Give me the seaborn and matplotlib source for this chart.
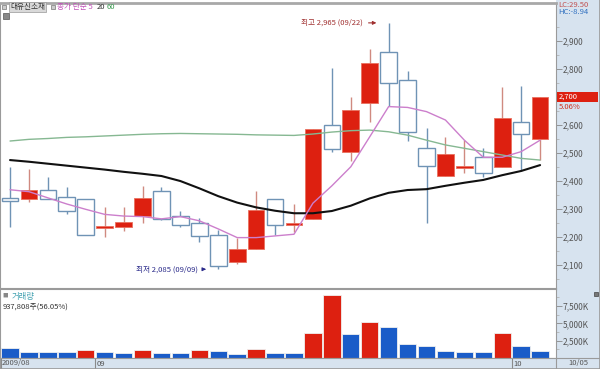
import matplotlib
matplotlib.use("Agg")
import matplotlib.pyplot as plt
import seaborn as sns
import pandas as pd
from matplotlib.patches import Rectangle

# ---- data ----
dates = ['08/25', '08/26', '08/27', '08/28', '08/31', '09/01', '09/02', '09/03',
         '09/04', '09/07', '09/08', '09/09', '09/10', '09/11', '09/14', '09/15',
         '09/16', '09/17', '09/18', '09/21', '09/22', '09/23', '09/24', '09/25',
         '09/28', '09/29', '09/30', '10/01', '10/05']
opens = [2338, 2336, 2367, 2342, 2335, 2233, 2236, 2276, 2364, 2276, 2249, 2206,
         2112, 2158, 2335, 2243, 2263, 2599, 2502, 2680, 2860, 2760, 2519, 2418,
         2448, 2487, 2449, 2610, 2549]
highs = [2451, 2443, 2413, 2380, 2335, 2306, 2306, 2383, 2377, 2294, 2267, 2225,
         2195, 2364, 2335, 2318, 2585, 2805, 2699, 2871, 2965, 2794, 2588, 2558,
         2546, 2519, 2735, 2741, 2700]
lows = [2237, 2326, 2336, 2282, 2206, 2201, 2221, 2249, 2261, 2237, 2183, 2085,
        2104, 2158, 2207, 2219, 2263, 2502, 2473, 2612, 2668, 2544, 2249, 2418,
        2427, 2413, 2449, 2437, 2475]
closes = [2330, 2368, 2336, 2293, 2206, 2240, 2252, 2338, 2264, 2242, 2202, 2096,
          2158, 2296, 2242, 2249, 2585, 2513, 2654, 2820, 2749, 2574, 2454, 2498,
          2454, 2427, 2627, 2568, 2700]
ma5 = [2369, 2362, 2340, 2318, 2299, 2281, 2275, 2273, 2265, 2273, 2258, 2229,
       2198, 2198, 2204, 2210, 2321, 2383, 2451, 2558, 2666, 2663, 2648, 2618,
       2546, 2485, 2485, 2505, 2546]
ma20 = [2475, 2469, 2462, 2455, 2448, 2441, 2433, 2426, 2418, 2400, 2374, 2346,
        2323, 2306, 2294, 2285, 2285, 2293, 2312, 2338, 2358, 2368, 2371, 2383,
        2394, 2404, 2421, 2436, 2457]
ma60 = [2543, 2549, 2552, 2556, 2558, 2561, 2564, 2567, 2569, 2570, 2569, 2568,
        2567, 2565, 2564, 2563, 2568, 2575, 2580, 2582, 2576, 2564, 2546, 2529,
        2517, 2505, 2493, 2481, 2475]
# volume in thousands of shares
volume = [1490, 865, 865, 865, 1110, 865, 720, 1110, 720, 675, 1110, 1010, 530,
          1340, 720, 720, 3560, 9090, 3420, 5240, 4470, 2020, 1690, 1010, 910,
          820, 3560, 1690, 938]
vol_up = ['n', 'n', 'n', 'n', 'y', 'n', 'n', 'y', 'n', 'n', 'y', 'n', 'n', 'y',
          'n', 'n', 'y', 'y', 'n', 'y', 'n', 'n', 'n', 'n', 'n', 'n', 'y', 'n', 'n']
price_ticks = [2100, 2200, 2300, 2400, 2500, 2600, 2700, 2800, 2900]
vol_ticks = [2500, 5000, 7500]
month_marks = [-0.5, 4.5, 26.5]
month_labels = ['2009/08', '09', '10']
last_price = 2700

RED = '#dd2010'
BLUE = '#1a5cc8'
HOLLOW_EDGE = '#6f93b5'
PANEL = '#d7e3ef'
GRID_GRAY = '#9a9a9a'

sns.set_theme(style='white')
plt.rcParams['font.family'] = ['Noto Sans CJK KR', 'DejaVu Sans']

df = pd.DataFrame({'date': dates, 'open': opens, 'high': highs, 'low': lows,
                   'close': closes, 'ma5': ma5, 'ma20': ma20, 'ma60': ma60,
                   'volume': volume, 'up': vol_up})
df['idx'] = range(len(df))

W, H = 600, 369
fig = plt.figure(figsize=(6.0, 3.69), dpi=100)
fig.patch.set_facecolor('white')

def fx(px):
    return px / W

def fy(py):
    return 1 - py / H

# blue right panel background (behind everything)
fig.patches.append(Rectangle((fx(556), 0), 1 - fx(556), 1, transform=fig.transFigure,
                             facecolor=PANEL, edgecolor='none', zorder=-5))

xlim = (-0.53, 28.84)

# ---- price panel ----
ax = fig.add_axes([0, fy(288), fx(556), fy(3) - fy(288)])
ax.set_facecolor('white')
for i, r in df.iterrows():
    up = r['close'] >= r['open']
    wick = '#d08a80' if up else HOLLOW_EDGE
    ax.vlines(r['idx'], r['low'], r['high'], color=wick, linewidth=1.0, zorder=2)
    bottom = min(r['open'], r['close'])
    height = max(abs(r['close'] - r['open']), 5)
    if up:
        ax.bar(r['idx'], height, bottom=bottom, width=0.88, color=RED,
               edgecolor='#e9705f', linewidth=0.6, zorder=3)
    else:
        ax.bar(r['idx'], height, bottom=bottom, width=0.88, color='white',
               edgecolor=HOLLOW_EDGE, linewidth=1.0, zorder=3)

sns.lineplot(data=df, x='idx', y='ma60', color='#86b892', linewidth=1.0, ax=ax, zorder=4)
sns.lineplot(data=df, x='idx', y='ma20', color='#111111', linewidth=1.5, ax=ax, zorder=4)
sns.lineplot(data=df, x='idx', y='ma5', color='#cc7fcc', linewidth=1.0, ax=ax, zorder=5)

ax.set_xlim(*xlim)
ax.set_ylim(2018, 3036)
ax.set_xlabel('')
ax.set_ylabel('')
ax.set_xticks([])
ax.yaxis.tick_right()
ax.set_yticks(price_ticks)
# the tick label at the last price is hidden under the red price box
ax.set_yticklabels(['' if t == last_price else f'{t:,}' for t in price_ticks])
ax.set_yticks(range(2050, 3000, 100), minor=True)
ax.tick_params(axis='y', which='major', direction='out', length=4, width=0.6,
               color='#888888', labelsize=6, labelcolor='#555555', pad=1,
               right=True, labelright=True)
ax.tick_params(axis='y', which='minor', direction='out', length=2, width=0.5,
               color='#aaaaaa', right=True)
for s in ax.spines.values():
    s.set_color(GRID_GRAY)
    s.set_linewidth(0.8)
ax.spines['top'].set_color('#a8a8a8')
ax.spines['top'].set_linewidth(2)

# high / low annotations
ax.annotate('최고 2,965 (09/22)', xy=(19.5, 2965), xytext=(-12, 0),
            textcoords='offset points', ha='right', va='center', fontsize=5.5,
            color='#a03030',
            arrowprops=dict(arrowstyle='-|>', color='#a03030', lw=0.8,
                            mutation_scale=5))
ax.annotate('최저 2,085 (09/09)', xy=(10.5, 2085), xytext=(-8, 0),
            textcoords='offset points', ha='right', va='center', fontsize=5.5,
            color='#2a2a8a',
            arrowprops=dict(arrowstyle='-|>', color='#2a2a8a', lw=0.8,
                            mutation_scale=5))

# top-left legend line
fig.patches.append(Rectangle((fx(2), fy(9)), fx(4), fx(4) * W / H, transform=fig.transFigure,
                             facecolor='#cccccc', edgecolor='#777777', linewidth=0.5, zorder=5))
fig.text(fx(10), fy(7), '대유신소재', fontsize=5.5, color='#333333', va='center', ha='left',
         bbox=dict(boxstyle='square,pad=0.15', facecolor='#d9d9d9', edgecolor='#999999',
                   linewidth=0.5))
fig.patches.append(Rectangle((fx(51), fy(9)), fx(4), fx(4) * W / H, transform=fig.transFigure,
                             facecolor='#cccccc', edgecolor='#777777', linewidth=0.5, zorder=5))
fig.text(fx(57), fy(7), '종가 단순 5', fontsize=5.5, color='#c050b8', va='center')
fig.text(fx(97), fy(7), '20', fontsize=5.5, color='#333333', va='center')
fig.text(fx(107), fy(7), '60', fontsize=5.5, color='#3a9a50', va='center')
fig.patches.append(Rectangle((fx(3), fy(19)), fx(6), fx(6) * W / H, transform=fig.transFigure,
                             facecolor='#888888', edgecolor='#555555', linewidth=0.5, zorder=5))

# right panel labels
fig.text(fx(558), fy(5), 'LC:29.50', fontsize=5.5, color='#c05050', va='center')
fig.text(fx(558), fy(12), 'HC:-8.94', fontsize=5.5, color='#3070c0', va='center')
fig.patches.append(Rectangle((fx(557), fy(102)), fx(41), (fy(92) - fy(102)),
                             transform=fig.transFigure, facecolor=RED, edgecolor='none',
                             zorder=2))
fig.text(fx(559), fy(97), f'{last_price:,}', fontsize=5.5, color='white', va='center', zorder=6)
fig.text(fx(559), fy(107), '5.06%', fontsize=5.5, color='#d03020', va='center', zorder=6)

# ---- volume panel ----
axv = fig.add_axes([0, fy(358), fx(556), fy(289) - fy(358)])
axv.set_facecolor('white')
palette = {d: (RED if u == 'y' else BLUE) for d, u in zip(dates, vol_up)}
sns.barplot(data=df, x='date', y='volume', hue='date', palette=palette, legend=False,
            width=0.92, edgecolor='#f0f0f0', linewidth=0.6, saturation=1, ax=axv)
axv.set_xlim(*xlim)
axv.set_ylim(0, 9950)
axv.set_xlabel('')
axv.set_ylabel('')
axv.set_xticks([])
axv.yaxis.tick_right()
axv.set_yticks(vol_ticks)
axv.set_yticklabels([f'{t:,}K' for t in vol_ticks])
axv.set_yticks(range(1250, 9000, 2500), minor=True)
axv.tick_params(axis='y', which='major', direction='out', length=4, width=0.6,
                color='#888888', labelsize=6, labelcolor='#555555', pad=1,
                right=True, labelright=True)
axv.tick_params(axis='y', which='minor', direction='out', length=2, width=0.5,
                color='#aaaaaa', right=True)
for s in axv.spines.values():
    s.set_color(GRID_GRAY)
    s.set_linewidth(0.8)
axv.text(0.005, 0.95, '■', transform=axv.transAxes, fontsize=4, color='#888888', va='top')
axv.text(0.02, 0.96, '거래량', transform=axv.transAxes, fontsize=6, color='#40a0b0', va='top')
axv.text(0.005, 0.80, '937,808주(56.05%)', transform=axv.transAxes, fontsize=5.5,
         color='#333333', va='top')
fig.patches.append(Rectangle((fx(594), fy(296)), fx(4), fx(4) * W / H, transform=fig.transFigure,
                             facecolor='#777777', edgecolor='#444444', linewidth=0.5, zorder=5))

# ---- date strip ----
axd = fig.add_axes([0, 0, fx(556), fy(358)])
axd.set_facecolor(PANEL)
axd.set_xlim(*xlim)
axd.set_ylim(0, 1)
axd.set_xticks([])
axd.set_yticks([])
for m, lab in zip(month_marks, month_labels):
    axd.axvline(m, color='#8a8a8a', linewidth=0.8)
    axd.text(m + 0.08, 0.5, lab, fontsize=5.5, color='#555555', va='center', ha='left')
for s in axd.spines.values():
    s.set_color(GRID_GRAY)
    s.set_linewidth(0.8)
fig.text(fx(568), fy(363.5), dates[-1], fontsize=5.5, color='#555555', va='center')
fig.add_artist(plt.Line2D([fx(556), 1], [fy(358), fy(358)], color=GRID_GRAY, linewidth=0.8))
fig.add_artist(plt.Line2D([fx(599.5), fx(599.5)], [0, 1], color=GRID_GRAY, linewidth=1.2))
fig.add_artist(plt.Line2D([0, 1], [fy(368.5), fy(368.5)], color=GRID_GRAY, linewidth=1.2))

fig.savefig('out.png', dpi=100)
